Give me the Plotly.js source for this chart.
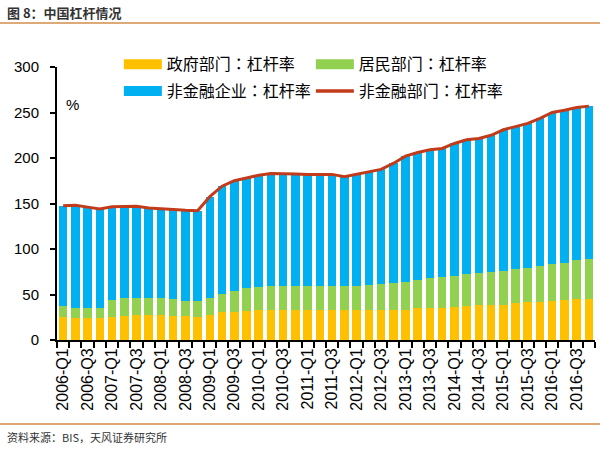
<!DOCTYPE html>
<html><head><meta charset="utf-8">
<script src="https://cdn.plot.ly/plotly-3.0.1.min.js"></script>
<style>html,body{margin:0;padding:0;background:#fff}#chart{width:600px;height:450px}</style>
</head><body><div id="chart"></div>
<script>
const quarters = ["2006-Q1","2006-Q2","2006-Q3","2006-Q4","2007-Q1","2007-Q2","2007-Q3","2007-Q4",
"2008-Q1","2008-Q2","2008-Q3","2008-Q4","2009-Q1","2009-Q2","2009-Q3","2009-Q4",
"2010-Q1","2010-Q2","2010-Q3","2010-Q4","2011-Q1","2011-Q2","2011-Q3","2011-Q4",
"2012-Q1","2012-Q2","2012-Q3","2012-Q4","2013-Q1","2013-Q2","2013-Q3","2013-Q4",
"2014-Q1","2014-Q2","2014-Q3","2014-Q4","2015-Q1","2015-Q2","2015-Q3","2015-Q4",
"2016-Q1","2016-Q2","2016-Q3","2016-Q4"];
const tickLabels = ["2006-Q1","","2006-Q3","","2007-Q1","","2007-Q3","",
"2008-Q1","","2008-Q3","","2009-Q1","","2009-Q3","",
"2010-Q1","","2010-Q3","","2011-Q1","","2011-Q3","",
"2012-Q1","","2012-Q3","","2013-Q1","","2013-Q3","",
"2014-Q1","","2014-Q3","","2015-Q1","","2015-Q3","",
"2016-Q1","","2016-Q3",""];
const government = [25.5,24.5,24.5,24,25.5,26.5,27.5,28,27.5,26.5,26,25.5,28,30.5,31,32,
32.5,33,32.5,32.5,32.5,32.5,32.5,32.5,33,33,33,33.5,33.5,35,35.5,35.5,
36.5,37.5,38.5,39,39,40.5,41.5,42,43,44,45,45];
const household = [11.5,11,11,11,18,19.5,19,18.5,18.5,18.5,17,17.5,18.5,20,23,25,
26,26.5,27,27,27,27,27,27,26.5,27,28,29,30.5,31,32.5,33.5,
34,34.5,35,36,37,37,38,39.5,41,41,43,44.5];
const corporate = [110.5,112.5,110.5,109,103,101,100.5,98.5,98,98,99.5,99,111,118.5,121,121,
122.5,123.5,123.5,123,122.5,122.5,122.5,120,122.5,124.5,126.5,131.5,138,140,141,141.5,
145.5,148,148,150,155,157,158.5,162,166,167.5,167.5,167.5];
const nonFinancial = [147.5,148,146,144,146.5,147,147,145,144,143,142.5,142,157.5,169,175,178,
181,183,183,182.5,182,182,182,179.5,182,184.5,187.5,194,202,206,209,210.5,
216,220,221.5,225,231,234.5,238,243.5,250,252.5,255.5,257];
const seriesNames = ["政府部门：杠杆率","居民部门：杠杆率","非金融企业：杠杆率","非金融部门：杠杆率"];
const yTicks = [0,50,100,150,200,250,300];
const colors = ['#FFC000','#92D050','#00B0F0','#C23B1A'];

const cjkLegend = '"Noto Sans CJK TC", "Noto Sans CJK SC", sans-serif';
const cjk = '"Noto Sans CJK SC", sans-serif';
const num = '"Liberation Sans", Arial, sans-serif';

const traces = [
  {type:'bar', name:seriesNames[0], x:quarters, y:government, marker:{color:colors[0]}, showlegend:false},
  {type:'bar', name:seriesNames[1], x:quarters, y:household, marker:{color:colors[1]}, showlegend:false},
  {type:'bar', name:seriesNames[2], x:quarters, y:corporate, marker:{color:colors[2]}, showlegend:false},
  {type:'scatter', mode:'lines', name:seriesNames[3], x:quarters, y:nonFinancial,
   line:{color:colors[3], width:3}, showlegend:false},
  // legend-only entries (no data) to mimic wide legend swatches
  {type:'scatter', mode:'lines', name:seriesNames[0], x:[null], y:[null], line:{color:colors[0], width:10}, legend:'legend'},
  {type:'scatter', mode:'lines', name:seriesNames[1], x:[null], y:[null], line:{color:colors[1], width:10}, legend:'legend'},
  {type:'scatter', mode:'lines', name:seriesNames[2], x:[null], y:[null], line:{color:colors[2], width:10}, legend:'legend2'},
  {type:'scatter', mode:'lines', name:seriesNames[3], x:[null], y:[null], line:{color:colors[3], width:3.5}, legend:'legend2'}
];

const legendBase = {orientation:'h', xanchor:'left', yanchor:'middle',
  entrywidth:139, entrywidthmode:'pixels', traceorder:'normal', itemwidth:38,
  font:{family:cjkLegend, size:16, color:'#000'}, bgcolor:'rgba(0,0,0,0)'};

const layout = {
  width:600, height:450,
  margin:{l:57, r:5, t:67, b:110},
  paper_bgcolor:'#fff', plot_bgcolor:'#fff',
  barmode:'stack', bargap:0.3,
  showlegend:true,
  legend:Object.assign({}, legendBase, {x:0.115, y:1.01}),
  legend2:Object.assign({}, legendBase, {x:0.115, y:0.912}),
  xaxis:{type:'category', tickmode:'array', tickvals:quarters, ticktext:tickLabels,
    tickson:'boundaries', ticks:'outside', ticklen:6, tickwidth:2, tickcolor:'#000',
    tickangle:-90, tickfont:{family:num, size:16, color:'#000'},
    showline:true, linecolor:'#000', linewidth:2, showgrid:false, zeroline:false, fixedrange:true},
  yaxis:{range:[0,300], tickmode:'array', tickvals:yTicks, ticks:'outside', ticklen:5, tickwidth:2,
    tickcolor:'#000', tickfont:{family:num, size:15, color:'#000'}, ticklabelstandoff:8,
    showline:true, linecolor:'#000', linewidth:2, showgrid:false, zeroline:false, fixedrange:true},
  annotations:[
    {text:'%', xref:'paper', yref:'paper', x:0.028, y:0.861, xanchor:'center', yanchor:'middle', showarrow:false,
     font:{family:num, size:15, color:'#000'}},
    {text:'<b>图 8：中国杠杆情况</b>', xref:'paper', yref:'paper', x:-0.097, y:1.198, xanchor:'left', yanchor:'middle',
     showarrow:false, font:{family:cjk, size:13, color:'#333'}},
    {text:'资料来源：BIS，天风证券研究所', xref:'paper', yref:'paper', x:-0.097, y:-0.355, xanchor:'left', yanchor:'middle',
     showarrow:false, font:{family:cjk, size:11, color:'#333'}}
  ],
  shapes:[
    {type:'line', xref:'paper', yref:'paper', x0:-0.106, x1:1.01, y0:1.161, y1:1.161, line:{color:'#DDAA77', width:2}},
    {type:'line', xref:'paper', yref:'paper', x0:-0.106, x1:1.01, y0:-0.308, y1:-0.308, line:{color:'#DDAA77', width:2}}
  ]
};
Plotly.newPlot('chart', traces, layout, {displayModeBar:false, staticPlot:true});
</script></body></html>
